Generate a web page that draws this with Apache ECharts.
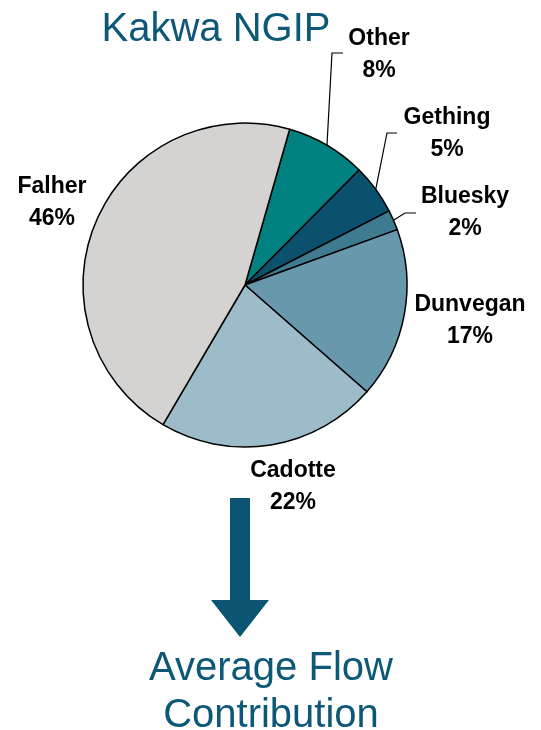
<!DOCTYPE html>
<html>
<head>
<meta charset="utf-8">
<script src="https://cdn.jsdelivr.net/npm/echarts@6/dist/echarts.min.js"></script>
<style>
  html, body { margin: 0; padding: 0; background: #fff; }
  #chart { width: 541px; height: 730px; }
</style>
</head>
<body>
<div id="chart"></div>
<script>
// slice data, clockwise from the top
const names = ['Other', 'Gething', 'Bluesky', 'Dunvegan', 'Cadotte', 'Falher'];
const shares = [8, 5, 2, 17, 22, 46];
const colors = ['#00807e', '#0b506d', '#3e7b90', '#6898ab', '#9dbcc9', '#d4d3d2'];
// label centres (px)
const labelPos = [[379, 55], [447, 134], [465, 213], [470, 321], [293, 487], [52, 203]];
// leader elbows for the small slices: [elbow, end] (null = no leader)
const leaders = [
  [[332, 53], [343, 53]],
  [[387, 133], [397, 133]],
  [[405, 213], [416, 213]],
  null, null, null
];

const chart = echarts.init(document.getElementById('chart'));

const option = {
  backgroundColor: '#fff',
  animation: false,
  title: [{
    text: 'Kakwa NGIP',
    left: 211,
    top: 5,
    textAlign: 'center',
    textStyle: { fontFamily: 'Liberation Sans', fontWeight: 'normal', fontSize: 40, color: '#0d5876' }
  }, {
    text: 'Average Flow\nContribution',
    left: 266,
    top: 640,
    textAlign: 'center',
    textStyle: { fontFamily: 'Liberation Sans', fontWeight: 'normal', fontSize: 40, lineHeight: 47, color: '#0d5876' }
  }],
  graphic: [{
    type: 'polygon',
    shape: {
      points: [[230, 498], [250, 498], [250, 600], [269, 600], [240, 637], [211, 600], [230, 600]]
    },
    style: { fill: '#0b5573' }
  }],
  series: [{
    type: 'pie',
    center: [245, 285],
    radius: 162,
    startAngle: 74,
    clockwise: true,
    itemStyle: { borderColor: '#000', borderWidth: 1.5 },
    label: {
      show: true,
      position: 'outside',
      formatter: p => p.name + '\n' + p.value + '%',
      fontFamily: 'Liberation Sans',
      fontWeight: 'bold',
      fontSize: 23,
      lineHeight: 32,
      color: '#000',
      align: 'center',
      overflow: 'none'
    },
    labelLine: {
      show: true,
      length: 20,
      length2: 10,
      lineStyle: { color: '#000', width: 1.2 }
    },
    labelLayout: p => {
      const pos = labelPos[p.dataIndex];
      const out = { x: pos[0], y: pos[1], align: 'center', verticalAlign: 'middle' };
      const ld = leaders[p.dataIndex];
      if (ld && p.labelLinePoints) {
        out.labelLinePoints = [p.labelLinePoints[0], ld[0], ld[1]];
      }
      return out;
    },
    emphasis: { disabled: true },
    data: names.map((n, i) => ({
      name: n,
      value: shares[i],
      itemStyle: { color: colors[i] },
      labelLine: { show: leaders[i] !== null }
    }))
  }]
};

chart.setOption(option);
</script>
</body>
</html>
